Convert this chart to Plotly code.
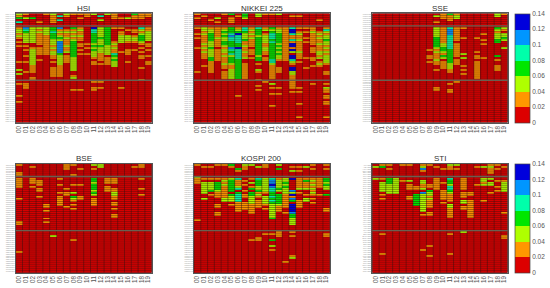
import plotly.graph_objects as go

# Each column string is "top|middle|bottom" section; a digit is a colour band index.
COLUMN_LABELS = [f"{i:02d}" for i in range(20)]
BAND_VALUES = [0.01, 0.03, 0.05, 0.07, 0.09, 0.11, 0.13]
BAND_COLORS = ["#dc0000", "#ff9600", "#afff00", "#00e600", "#00ffaa", "#0096ff", "#0000dc"]
SECTION_SIZES = [7, 27, 21]

HSI = [
 "21304|122121010100000001000202|01000001001", "1020|54322222010100100100001|0111",
 "0030|222222220012222222211110011|", "00001|21211111101111001|",
 "1|22221111111111|", "21111|33433322212122110100 11111|",
 "0404|5121232555555322222111111|", "21|0121121112112011110|",
 "1|31212123333333322222220012|00001", "101|12112110110101|00001",
 "11|00000000101001|", "2|64433333232322210110|10011",
 "0402|22222322232221111 01|1001", "2|3333333332222201111|",
 "111|10000001212114323222|", "001|10112222000010|0001",
 "002|01002221000111 0001|", "311|01101221000100|",
 "111|42123332101010110000100000 1|", "11|11222220110100100 1 1|",
]
NIKKEI = [
 "101|1001010000100000000000 1|", "01|221211112121211100 01|",
 "0001|12233332223222233111111|", "0020 1|111112111101111110|",
 "1|1232322332122121112110 1111|", "30111|33345443335434233321122222|",
 "01|12364444 33644444333333333 3|0000 0001", "332|44322231121121120011111111|",
 "|12121211110111010 0|", "22|43332333333333233010021000 1|00101",
 "1|1201222211221101 1|1", "1|32344434333333334421111111|0201001000001",
 "2|12233333232323221000111|0001001", "|1111111111111111 1|",
 "01|46641141661620664210662211 11|111101", "01|101211211111211101 0|0001010000010000001",
 "|101001010000000 1 0000 1|", "|112111111011100110 01|01",
 "0001|001212112111221201 2 1|", "|1421223221212122221 0 0 0110|010211011011000000 1",
]
SSE = [
 "|", "|", "|", "|", "|", "|", "|", "|",
 "|00000000000100110 1|", "0200 1|22222333332121112110010|00011",
 "111|11111111223321320 1111|", "3111|45554444444333333322211|010011",
 "122|1111111011111110 1 1 1|1", "|100001000000020 2000101 0 1|",
 "|", "|0000010000001 01 1011111111 1|", "|000100 1010000001|", "|",
 "22|32122233000000301 0 0111|", "1|21022320002|",
]
BSE = [
 "1000 11|11111000001000000000001 1|00000000001", "|",
 "01|1110100|", "|0111011001|",
 "|000000000000011 0100010 1|", "|0|002",
 "|100100010111 11|", "111|000001011000001|",
 "100 00 1|00010002032101 01|00001", "001|000100000110|",
 "|", "2 01|3323332320111 1|",
 "22|", "|1110111|", "|11100112211011010011|",
 "|", "|", "01|", "11|100001001|", "|",
]
KOSPI = [
 "100 0002|1110000000000000000001|", "010|10222222 002|00 0000000000000",
 "01|1022223 0 1|", "1|1033332111000110 011|",
 "1|121211111122|", "3 1|23333330322 20 1|",
 "00 31|41112 40 3 4 4 44 1 1 1 1 1|", "211|010100101100111 1|",
 "2|10201 3 0 3 3 22221 1 1 1 1|00001", "02|433322312 1 0 1 1 1 1 0|00011",
 "11|2222222 1 0 2222 1 0 1|01", "|45565443343 43 2 2 2 2 2 2 2 3|0100300 2 0 1",
 "2 03|12222 3 2 0 33333 2 1 1 1|111", "|2232322 2 1 1 1 1 1 1 1 0 0 1|000000000000000 1",
 "0102|6000005 2 6 1 5 3 0 6 6 6 6 5 3 3 2 2 2 2|10100000000012", "01 01|111112 0 1 0 0 0 1 1 1 1|",
 "02|131112 0 0 1 0 2 2|", "1 01|121212121 0 1 0 1|",
 "|111110 0 0 1|", "1 01|332322 0 0 3 0 0 0 0 0 0 1 1|0110",
]
STI = [
 "02|2|", "13|102222201 0 1|0100000000 01",
 "101|33322222|", "|22222222|",
 "1|01|", "1|02011100 0 1 1|",
 "|0000 11 00 333333|", "1251|022 11 2 0 5 2 2 2 2 2 2 2 2 2 0 1|000000000 1",
 "1|000110 3 2 2 1 2 1 1 1 1 0 0 1 1|00000001 0000 1", "01|111111|",
 "001|00100 0 1 1 1 1 1 0 1|", "211|4332443 2 1 1 1 1 0 2 2 1 1 1 1 1|01 0000000001",
 "201|", "|1111 1 1 0 1 1 1 0 2 2 0 1 1|2",
 "|0000000 1 1 0 0 1 1 1 1 1 1 1 1 1|", "01|0001|",
 "02|2212 0 0 0 0 0 0 0 1|", "12111|2022 0 0 0 1|",
 "101|0100 1 0 1|", "01|0122222 0 0 0 0 0 0 0 0 0 0 1|0 0 1 1",
]

HK = "0001 0002 0003 0004 0005 0006 0011 0012 0016 0017 0019 0023 0027 0066 0083 0101 0135 0144 0151 0175 0267 0288 0386 0388 0494 0688 0700 0762 0823 0836 0857 0883 0939 0941 0992 1038 1044 1088 1109 1113 1299 1398 1928 2018 2318 2319 2388 2628 3328 3988 0291 0293 0322 0330 0168".split()
JP = "1332 1605 1721 1801 1802 1803 1808 1812 1925 1928 1963 2002 2269 2282 2413 2432 2501 2502 2503 2531 2768 2801 2802 2871 2914 3086 3099 3101 3103 3289 3382 3401 3402 3405 3407 3436 3659 3861 3863 4004 4005 4021 4042 4043 4061 4063 4151 4183 4188 4208 4272 4324 4452 4502 4503".split()
CN = "600000 600009 600010 600011 600015 600016 600018 600019 600023 600028 600029 600030 600031 600036 600048 600050 600061 600066 600085 600104 600109 600111 600115 600118 600170 600176 600177 600188 600196 600276 600297 600309 600332 600340 600383 600406 600436 600438 600482 600487 600519 600547 600570 600585 600588 600606 600690 600703 600741 600745 600795 600837 600887 600893 600900".split()
IN = "500010 500034 500087 500112 500114 500180 500182 500209 500228 500247 500312 500325 500510 500520 500570 500575 500696 500790 500820 500825 500875 507685 508869 511218 512599 517354 519600 522275 524715 526371 526881 528343 530965 532174 532187 532215 532281 532286 532424 532454 532500 532538 532540 532555 532648 532755 532898 532921 532977 533278 533398 533519 539523 540180 540376".split()
KR = "000060 000100 000120 000210 000240 000270 000660 000720 000810 000880 001040 001120 001230 001300 001450 001630 001680 001740 001800 002270 002350 002380 002790 003000 003410 003490 003520 003550 003600 004000 004020 004170 004370 004490 004800 004990 005180 005250 005300 005380 005385 005490 005610 005830 005930 005940 006260 006280 006360 006400 006650 006800 007070 007310 008560".split()
SG = "A17 AJB AWX BN4 BS6 C07 C09 C31 C38 C52 C6L D01 D05 E5H F34 G13 H78 J36 J37 M44 N21 O39 S51 S58 S59 S63 S68 T39 U11 U14 U96 V03 Y92 Z74 A68 B58 BKW BUO CC3 D03 E28 F99 G07 H02 K71 L38 M01 N2I O32 P52 Q01 RW0 S08 T82 W05".split()

PANELS = [
    ("HSI", HSI, [c + ".XHKG" for c in HK], 15.7, 151.7, 13.4, 122.6, False),
    ("NIKKEI 225", NIKKEI, [c + ".XTKS" for c in JP], 194.0, 329.7, 13.4, 122.6, False),
    ("SSE", SSE, [c + ".SS" for c in CN], 372.3, 507.7, 13.4, 122.6, True),
    ("BSE", BSE, [c + ".BO" for c in IN], 15.7, 151.7, 164.0, 272.7, False),
    ("KOSPI 200", KOSPI, [c + ".KS" for c in KR], 194.0, 329.7, 164.0, 272.7, False),
    ("STI", STI, [c + ".XSES" for c in SG], 372.3, 507.7, 164.0, 272.7, True),
]
W, H = 550, 288


def decode(columns):
    grid = [[0.0] * len(columns) for _ in range(sum(SECTION_SIZES))]
    for c, text in enumerate(columns):
        parts = text.split("|")
        r0 = 0
        for i, size in enumerate(SECTION_SIZES):
            part = parts[i].replace(" ", "") if i < len(parts) else ""
            part = part.ljust(size, "0")[:size]
            for k, ch in enumerate(part):
                grid[r0 + k][c] = BAND_VALUES[int(ch)]
            r0 += size
    return grid


colorscale = []
for i, col in enumerate(BAND_COLORS):
    colorscale += [[i / 7, col], [(i + 1) / 7, col]]

fig = go.Figure()
layout = dict(
    width=W, height=H, margin=dict(l=0, r=0, t=0, b=0),
    paper_bgcolor="white", plot_bgcolor="#3a2222",
    font=dict(family="Liberation Sans", color="#444444"),
    showlegend=False, shapes=[], annotations=[],
)

for n, (title, cols, names, x0, x1, y0, y1, bar) in enumerate(PANELS, start=1):
    suffix = "" if n == 1 else str(n)
    nr, nc = len(names), len(COLUMN_LABELS)
    trace = dict(
        z=decode(cols), x=list(range(nc)), y=list(range(nr)),
        xaxis="x" + suffix, yaxis="y" + suffix,
        zmin=0, zmax=0.14, colorscale=colorscale,
        showscale=bar, hoverinfo="z",
    )
    if bar:
        trace["colorbar"] = dict(
            x=515 / W, xanchor="left", thickness=14.5, thicknessmode="pixels",
            y=1 - y1 / H, yanchor="bottom", len=(y1 - y0) / H, lenmode="fraction",
            ypad=0, xpad=0, outlinecolor="#444444", outlinewidth=0.7,
            tickvals=[0, 0.02, 0.04, 0.06, 0.08, 0.1, 0.12, 0.14],
            ticktext=["0", "0.02", "0.04", "0.06", "0.08", "0.1", "0.12", "0.14"],
            ticks="", tickfont=dict(size=6.5, color="#555555"),
        )
    fig.add_trace(go.Heatmap(**trace))
    # thin cell separators on top of the heatmap
    gx, gy = [], []
    for r in range(nr + 1):
        gx += [-0.5, nc - 0.5, None]
        gy += [r - 0.5, r - 0.5, None]
    for c in range(nc + 1):
        gx += [c - 0.5, c - 0.5, None]
        gy += [-0.5, nr - 0.5, None]
    fig.add_trace(go.Scatter(
        x=gx, y=gy, mode="lines", hoverinfo="skip",
        line=dict(color="rgba(50,15,15,0.75)", width=0.6),
        xaxis="x" + suffix, yaxis="y" + suffix,
    ))
    layout["xaxis" + suffix] = dict(
        domain=[x0 / W, x1 / W], anchor="y" + suffix,
        range=[-0.5, nc - 0.5],
        tickmode="array", tickvals=list(range(nc)), ticktext=COLUMN_LABELS,
        tickangle=-90, tickfont=dict(size=6.3, color="#555555"), ticklen=0,
        showline=True, mirror=True, linecolor="#555555", linewidth=0.7,
        showgrid=False, zeroline=False,
    )
    layout["yaxis" + suffix] = dict(
        domain=[1 - y1 / H, 1 - y0 / H], anchor="x" + suffix,
        range=[nr - 0.5, -0.5], tickmode="array", tickvals=list(range(nr)), ticktext=names,
        tickfont=dict(size=1.7, color="#999999"), ticklen=0,
        showline=True, mirror=True, linecolor="#555555", linewidth=0.7,
        showgrid=False, zeroline=False,
    )
    for row in (5.8, 33.2):
        layout["shapes"].append(dict(
            type="line", xref=f"x{suffix} domain", x0=0, x1=1,
            yref="y" + suffix, y0=row, y1=row,
            line=dict(color="#6b5f50", width=1.4),
        ))
    layout["annotations"].append(dict(
        text=title, xref="paper", yref="paper",
        x=(x0 + x1) / 2 / W, y=1 - (y0 - 5.3) / H,
        xanchor="center", yanchor="middle", showarrow=False,
        font=dict(size=8, color="#333333"),
    ))

fig.update_layout(**layout)
fig.write_html(
    "out.html",
    config=dict(displayModeBar=False),
    post_script="document.body.style.margin='0';document.documentElement.style.overflow='hidden';",
)
